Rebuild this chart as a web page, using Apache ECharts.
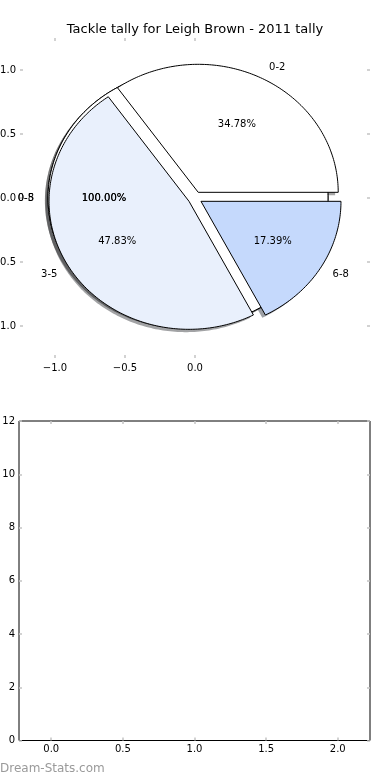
<!DOCTYPE html>
<html><head><meta charset="utf-8">
<script src="https://cdn.jsdelivr.net/npm/echarts@6/dist/echarts.min.js"></script>
<style>html,body{margin:0;padding:0;background:#fff}#c{width:390px;height:780px}</style>
</head><body><div id="c"></div>
<script>
// ---- data ----
const titleText = 'Tackle tally for Leigh Brown - 2011 tally';
const categories = ['0-2', '3-5', '6-8'];
const tallyCounts = [8, 11, 4];
const singlePieLabels = ['0-5', '0-8'];
const singlePieCounts = [1, 1];
const pieYTicks = [-1.0, -0.5, 0.0, 0.5, 1.0];
const pieXTicks = [-1.0, -0.5, 0.0];
const barXTicks = [0.0, 0.5, 1.0, 1.5, 2.0];
const barYTicks = [0, 2, 4, 6, 8, 10, 12];

// ---- styles ----
const sliceColors = [[255, 255, 255], [233, 240, 252], [197, 217, 252]];
const FONT = 'DejaVu Sans';
const EXPLODE = 0.05;
const SHADOW = -0.022;
const tickStyle = {color: '#c4c4c4', width: 1.5};

function slices(counts, explode) {
  const total = counts.reduce((a, b) => a + b, 0);
  let start = 0;
  return counts.map(v => {
    const frac = v / total;
    const a1 = start, a2 = start + 360 * frac;
    start = a2;
    const mid = (a1 + a2) / 2 * Math.PI / 180;
    return {frac, a1, a2, mid, cx: explode * Math.cos(mid), cy: explode * Math.sin(mid)};
  });
}
const mainSlices = slices(tallyCounts, EXPLODE);
const singleSlices = singlePieCounts.map(c => slices([c], EXPLODE)[0]);

function wedgePoints(api, s, dx, dy) {
  const pts = [];
  const full = s.a2 - s.a1 >= 359.999;
  if (!full) pts.push(api.coord([s.cx + dx, s.cy + dy]));
  const n = Math.max(8, Math.ceil(s.a2 - s.a1));
  for (let k = 0; k <= n; k++) {
    const t = (s.a1 + (s.a2 - s.a1) * k / n) * Math.PI / 180;
    pts.push(api.coord([s.cx + dx + Math.cos(t), s.cy + dy + Math.sin(t)]));
  }
  return pts;
}
const rgb = c => 'rgb(' + c.join(',') + ')';

const allSlices = singleSlices.map(s => ({s, col: sliceColors[0]}))
  .concat(mainSlices.map((s, i) => ({s, col: sliceColors[i]})));

const texts = [];
singleSlices.forEach((s, i) => {
  texts.push({t: singlePieLabels[i], r: 1.1, s});
  texts.push({t: (s.frac * 100).toFixed(2) + '%', r: 0.6, s, pct: true});
});
mainSlices.forEach((s, i) => {
  texts.push({t: categories[i], r: 1.1, s});
  texts.push({t: (s.frac * 100).toFixed(2) + '%', r: 0.6, s, pct: true});
});

const fmt1 = v => (v < 0 ? '\u2212' : '') + Math.abs(v).toFixed(1);
function ax(extra) {
  return Object.assign({
    type: 'value', splitLine: {show: false}, axisLine: {show: false, onZero: false}
  }, extra);
}
const lbl = (vals, f, margin) => ({customValues: vals, formatter: f, margin, fontSize: 10, color: '#000', fontFamily: FONT, hideOverlap: false});
const tk = vals => ({show: true, inside: true, length: 3, lineStyle: tickStyle, customValues: vals});

const chart = echarts.init(document.getElementById('c'), null, {renderer: 'canvas'});
chart.setOption({
  animation: false,
  backgroundColor: '#fff',
  grid: [
    {left: 20, top: 38, width: 350, height: 320, show: false, containLabel: false, outerBoundsMode: 'none'},
    {left: 19, top: 421, width: 351, height: 319.5, show: true, borderColor: '#000', borderWidth: 1, backgroundColor: 'transparent', containLabel: false, outerBoundsMode: 'none'}
  ],
  xAxis: [
    ax({gridIndex: 0, position: 'bottom', min: -1.25, max: 1.25, axisTick: tk(pieXTicks), axisLabel: lbl(pieXTicks, fmt1, 5)}),
    ax({gridIndex: 0, position: 'top', min: -1.25, max: 1.25, axisTick: tk(pieXTicks), axisLabel: {show: false}}),
    ax({gridIndex: 1, position: 'bottom', min: -0.225, max: 2.225, axisTick: tk(barXTicks), axisLabel: lbl(barXTicks, fmt1, 4)}),
    ax({gridIndex: 1, position: 'top', min: -0.225, max: 2.225, axisTick: tk(barXTicks), axisLabel: {show: false}})
  ],
  yAxis: [
    ax({gridIndex: 0, position: 'left', min: -1.25, max: 1.25, axisTick: tk(pieYTicks), axisLabel: lbl(pieYTicks, fmt1, 4)}),
    ax({gridIndex: 0, position: 'right', min: -1.25, max: 1.25, axisTick: tk(pieYTicks), axisLabel: {show: false}}),
    ax({gridIndex: 1, position: 'left', min: 0, max: 12, axisTick: tk(barYTicks), axisLabel: lbl(barYTicks, v => String(v), 4)}),
    ax({gridIndex: 1, position: 'right', min: 0, max: 12, axisTick: tk(barYTicks), axisLabel: {show: false}})
  ],
  graphic: [
    {type: 'text', x: 195, y: 30, z: 10, style: {text: titleText, align: 'center', verticalAlign: 'middle', fontSize: 13, fontFamily: FONT, fill: '#000'}},
    {type: 'text', x: 0, y: 769, z: 10, style: {text: 'Dream-Stats.com', align: 'left', verticalAlign: 'middle', fontSize: 12, fontFamily: FONT, fill: '#9a9a9a'}}
  ],
  series: [
    { // shadows
      type: 'custom', xAxisIndex: 0, yAxisIndex: 0, z: 1, clip: false,
      data: allSlices.map((d, i) => i),
      renderItem: (params, api) => {
        const d = allSlices[params.dataIndex];
        return {type: 'polygon', shape: {points: wedgePoints(api, d.s, SHADOW, SHADOW)},
          style: {fill: 'rgba(' + d.col.map(c => Math.round(c * 0.3)).join(',') + ',0.5)', stroke: null}};
      }
    },
    { // single-category pies (full circles)
      type: 'custom', xAxisIndex: 0, yAxisIndex: 0, z: 2, clip: false,
      data: singleSlices.map((d, i) => i),
      renderItem: (params, api) => ({type: 'polygon', shape: {points: wedgePoints(api, singleSlices[params.dataIndex], 0, 0)},
        style: {fill: rgb(sliceColors[0]), stroke: '#000', lineWidth: 1}})
    },
    { // main pie wedges
      type: 'custom', xAxisIndex: 0, yAxisIndex: 0, z: 3, clip: false,
      data: tallyCounts.map((v, i) => i),
      renderItem: (params, api) => ({type: 'polygon', shape: {points: wedgePoints(api, mainSlices[params.dataIndex], 0, 0)},
        style: {fill: rgb(sliceColors[params.dataIndex]), stroke: '#000', lineWidth: 1}})
    },
    { // labels
      type: 'custom', xAxisIndex: 0, yAxisIndex: 0, z: 4, clip: false,
      data: texts.map((t, i) => i),
      renderItem: (params, api) => {
        const t = texts[params.dataIndex];
        const x = t.s.cx + t.r * Math.cos(t.s.mid), y = t.s.cy + t.r * Math.sin(t.s.mid);
        const p = api.coord([x, y]);
        const align = t.pct ? 'center' : (x >= 0 ? 'left' : 'right');
        return {type: 'text', x: p[0], y: p[1],
          style: {text: t.t, align, verticalAlign: 'middle', fontSize: 10, fontFamily: FONT, fill: '#000'}};
      }
    }
  ]
});
</script>
</body></html>
